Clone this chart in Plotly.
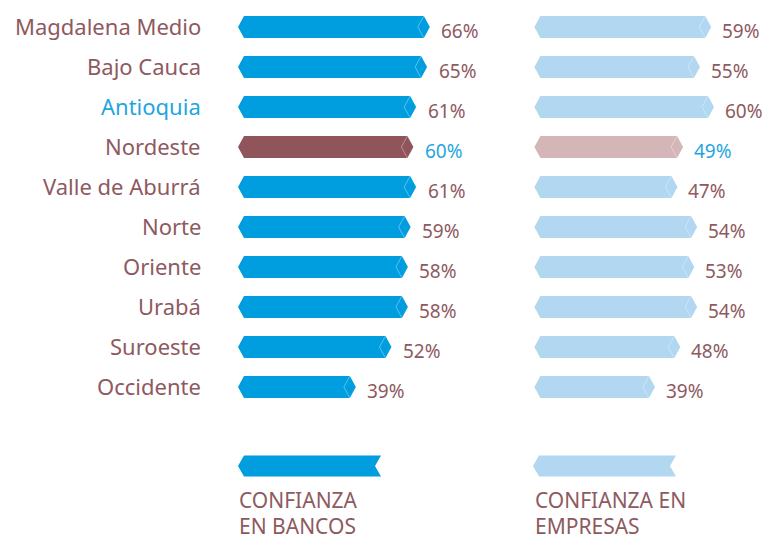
import plotly.graph_objects as go

# ---------------- data ----------------
regions = ["Magdalena Medio", "Bajo Cauca", "Antioquia", "Nordeste", "Valle de Aburrá",
           "Norte", "Oriente", "Urabá", "Suroeste", "Occidente"]
bancos = [66, 65, 61, 60, 61, 59, 58, 58, 52, 39]
empresas = [59, 55, 60, 49, 47, 54, 53, 54, 48, 39]
highlight = "Nordeste"
label_blue = "Antioquia"
legend_labels = [["CONFIANZA", "EN BANCOS"], ["CONFIANZA EN", "EMPRESAS"]]

# ---------------- styling ----------------
W, H = 766, 540
FONT = "Noto Sans"
TXT = "#8e5a5f"
BLUE_TXT = "#1fa6df"
C_BANK = "#009edf"
C_EMP = "#b1d7f1"
C_HI = "#8f555b"
C_HI_L = "#d5b6b8"

# pixel geometry of the two panels (zero position and px per percent)
ZERO_L, SCALE_L = 249.0, 2.74
ZERO_R, SCALE_R = 545.4, 2.81
ROW0, ROWSTEP = 27.0, 40.0
HALF = 11.0 / ROWSTEP      # half bar height in row units
TIP_PX = 6.0
START_PX = -11.0           # left tip offset from zero, px

def rng(zero, scale):
    return [-zero / scale, (W - zero) / scale]

def bar_poly(v, y, scale):
    d = TIP_PX / scale
    x0 = START_PX / scale
    xs = [x0, x0 + d, v - d, v, v - d, x0 + d, x0, None]
    ys = [y, y - HALF, y - HALF, y, y + HALF, y + HALF, y, None]
    return xs, ys

def chevron(v, y, scale):
    d = TIP_PX / scale
    xs = [v - d, v - 2 * d, v - d, None]
    ys = [y - HALF, y, y + HALF, None]
    return xs, ys

fig = go.Figure()

def add_series(values, scale, xaxis, color, hicolor):
    groups = {color: ([], []), hicolor: ([], [])}
    chev = ([], [])
    for i, (r, v) in enumerate(zip(regions, values)):
        c = hicolor if r == highlight else color
        xs, ys = bar_poly(v, i, scale)
        groups[c][0].extend(xs); groups[c][1].extend(ys)
        cx, cy = chevron(v, i, scale)
        chev[0].extend(cx); chev[1].extend(cy)
    for c, (xs, ys) in groups.items():
        fig.add_trace(go.Scatter(x=xs, y=ys, xaxis=xaxis, yaxis="y", mode="lines",
                                 fill="toself", fillcolor=c, line=dict(width=0, color=c),
                                 hoverinfo="skip", showlegend=False))
    fig.add_trace(go.Scatter(x=chev[0], y=chev[1], xaxis=xaxis, yaxis="y", mode="lines",
                             line=dict(width=1, color="rgba(255,255,255,0.35)"),
                             hoverinfo="skip", showlegend=False))

add_series(bancos, SCALE_L, "x", C_BANK, C_HI)
add_series(empresas, SCALE_R, "x2", C_EMP, C_HI_L)

# legend swatches (notched ribbons)
def legend_ribbon(x0px, x1px, zero, scale, xaxis, color):
    yc = (466 - ROW0) / ROWSTEP
    h = 10.5 / ROWSTEP
    d = TIP_PX / scale
    a = (x0px - zero) / scale
    b = (x1px - zero) / scale
    xs = [a, a + d, b, b - d, b, a + d, a]
    ys = [yc, yc - h, yc - h, yc, yc + h, yc + h, yc]
    fig.add_trace(go.Scatter(x=xs, y=ys, xaxis=xaxis, yaxis="y", mode="lines",
                             fill="toself", fillcolor=color, line=dict(width=0, color=color),
                             hoverinfo="skip", showlegend=False))

legend_ribbon(238, 381, ZERO_L, SCALE_L, "x", C_BANK)
legend_ribbon(533, 676, ZERO_R, SCALE_R, "x2", C_EMP)

ann = []
for i, r in enumerate(regions):
    ann.append(dict(x=203 / W, xref="paper", y=i - 1 / ROWSTEP, yref="y", text=r, showarrow=False,
                    xanchor="right", yanchor="middle",
                    font=dict(family=FONT, size=22, color=BLUE_TXT if r == label_blue else TXT)))
    vc = BLUE_TXT if r == highlight else TXT
    ann.append(dict(x=bancos[i] + 9.5 / SCALE_L, xref="x", y=i + 4 / ROWSTEP, yref="y",
                    text=f"{bancos[i]}%", showarrow=False, xanchor="left", yanchor="middle",
                    font=dict(family=FONT, size=19, color=vc)))
    ann.append(dict(x=empresas[i] + 9 / SCALE_R, xref="x2", y=i + 4 / ROWSTEP, yref="y",
                    text=f"{empresas[i]}%", showarrow=False, xanchor="left", yanchor="middle",
                    font=dict(family=FONT, size=19, color=vc)))

for xpx, lines in zip([237, 533], legend_labels):
    for j, line in enumerate(lines):
        ann.append(dict(x=xpx / W, xref="paper", y=(500 + 26 * j - ROW0) / ROWSTEP, yref="y",
                        text=line, showarrow=False, xanchor="left", yanchor="middle",
                        font=dict(family=FONT, size=21, color=TXT)))

hidden = dict(showgrid=False, zeroline=False, showticklabels=False, ticks="", showline=False)
fig.update_layout(
    width=W, height=H, margin=dict(l=0, r=0, t=0, b=0),
    paper_bgcolor="white", plot_bgcolor="white",
    xaxis=dict(domain=[0, 1], range=rng(ZERO_L, SCALE_L), fixedrange=True, **hidden),
    xaxis2=dict(domain=[0, 1], range=rng(ZERO_R, SCALE_R), overlaying="x", anchor="y",
                fixedrange=True, **hidden),
    yaxis=dict(range=[(H - ROW0) / ROWSTEP, -ROW0 / ROWSTEP], fixedrange=True, **hidden),
    annotations=ann, showlegend=False,
)

fig.write_html("out.html", config={"displayModeBar": False},
               post_script="document.body.style.margin='0px';document.body.style.overflow='hidden';")
